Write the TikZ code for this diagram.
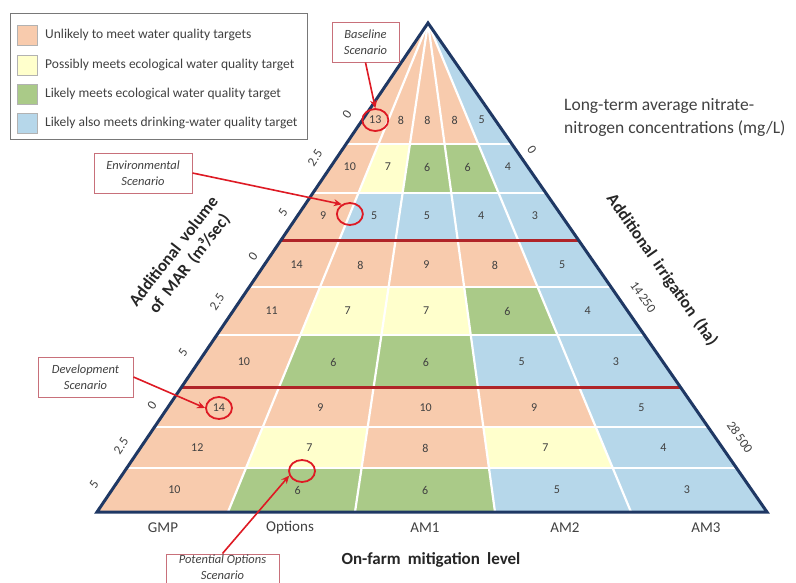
\documentclass[tikz,border=0pt]{standalone}
\usepackage{fontspec}
\setmainfont{Carlito}
\usetikzlibrary{calc,arrows.meta,shapes.geometric}
\definecolor{cOr}{RGB}{248,203,173}
\definecolor{cYe}{RGB}{255,255,204}
\definecolor{cGr}{RGB}{170,202,136}
\definecolor{cBl}{RGB}{182,215,234}
\definecolor{navy}{RGB}{31,56,100}
\definecolor{dred}{RGB}{176,36,40}
\definecolor{ared}{RGB}{222,26,36}
\definecolor{boxred}{RGB}{200,112,122}
\definecolor{txt}{RGB}{65,65,65}
\definecolor{legborder}{RGB}{120,120,120}
\newcommand\widesp{\spaceskip=0.42em\relax}

\newcommand\cellrow[5]{%
  \foreach \col/\num [count=\c from 0] in {#5} {%
    \pgfmathtruncatemacro\cc{\c+1}%
    \fill[\col] ($(A)!#2!(B\c)$) -- ($(A)!#2!(B\cc)$) -- ($(A)!#3!(B\cc)$) -- ($(A)!#3!(B\c)$) -- cycle;
    \coordinate (L) at ($(A)!#4!(B\c)$);
    \coordinate (R) at ($(A)!#4!(B\cc)$);
    \node[num] (n-#1-\c) at ($(L)!.5!(R)$) {\num};
  }}

\begin{document}
\begin{tikzpicture}[x=1pt,y=-1pt,
  num/.style={font=\fontsize{12}{14}\selectfont, text=txt, inner sep=0},
  wline/.style={white, line width=2.2},
  rline/.style={dred, line width=3},
  circ/.style={ellipse, draw=ared, line width=1.8, minimum width=26, minimum height=22, inner sep=0},
  annot/.style={draw=boxred, line width=1, fill=white, font=\itshape\fontsize{12.5}{16}\selectfont, text=txt, align=center, inner sep=0},
  arr/.style={ared, line width=1.6, -{Stealth[length=8pt,width=7pt]}},
  swatch/.style={draw=black!30, line width=0.8, minimum width=20, minimum height=20, inner sep=0},
  legtext/.style={anchor=west, font=\fontsize{13.5}{16}\selectfont, text=txt, inner sep=0},
  tick/.style={font=\fontsize{13}{15}\selectfont, text=txt, inner sep=0},
  blab/.style={font=\fontsize{15}{17}\selectfont, text=txt, inner sep=0},
  axtitle/.style={font={\bfseries\fontsize{17}{20}\selectfont\widesp}, text=black!85, inner sep=0, align=center}
  ]
\useasboundingbox (0,0) rectangle (796,582);
\fill[white] (0,0) rectangle (796,582);

\coordinate (A) at (428,23);
\coordinate (B0) at (97,512);
\coordinate (B1) at (228,512);
\coordinate (B2) at (355,512);
\coordinate (B3) at (495,512);
\coordinate (B4) at (631,512);
\coordinate (B5) at (767,512);

\cellrow{1}{0}{.2474}{.1984}{cOr/13,cOr/8,cOr/8,cOr/8,cBl/5}
\cellrow{2}{.2474}{.3476}{.2945}{cOr/10,cYe/7,cGr/6,cGr/6,cBl/4}
\cellrow{3}{.3476}{.4438}{.3947}{cOr/9,cBl/5,cBl/5,cBl/4,cBl/3}
\cellrow{4}{.4438}{.5399}{.4949}{cOr/14,cOr/8,cOr/9,cOr/8,cBl/5}
\cellrow{5}{.5399}{.6380}{.5890}{cOr/11,cYe/7,cYe/7,cGr/6,cBl/4}
\cellrow{6}{.6380}{.7464}{.6933}{cOr/10,cGr/6,cGr/6,cBl/5,cBl/3}
\cellrow{7}{.7464}{.8262}{.7873}{cOr/14,cOr/9,cOr/10,cOr/9,cBl/5}
\cellrow{8}{.8262}{.9100}{.8691}{cOr/12,cYe/7,cOr/8,cYe/7,cBl/4}
\cellrow{9}{.9100}{1}{.9550}{cOr/10,cGr/6,cGr/6,cBl/5,cBl/3}

% white grid
\foreach \t in {.2474,.3476,.5399,.6380,.8262,.9100}
  \draw[wline] ($(A)!\t!(B0)$) -- ($(A)!\t!(B5)$);
\foreach \k in {1,2,3,4}
  \draw[wline] (A) -- (B\k);
% red block separators
\foreach \t in {.4438,.7464}
  \draw[rline] ($(A)!\t!(B0)$) -- ($(A)!\t!(B5)$);
% outline
\draw[navy, line width=3] (A) -- (B0) -- (B5) -- cycle;

% legend
\node[draw=legborder, line width=1, minimum width=297, minimum height=126, inner sep=0] (leg) at (158.5,76) {};
\node[swatch, fill=cOr] (s1) at (27,35) {};
\node[swatch, fill=cYe] (s2) at (27,65) {};
\node[swatch, fill=cGr] (s3) at (27,94) {};
\node[swatch, fill=cBl] (s4) at (27,123) {};
\node[legtext] (l1) at (45,35) {Unlikely to meet water quality targets};
\node[legtext] (l2) at (45,65) {Possibly meets ecological water quality target};
\node[legtext] (l3) at (45,94) {Likely meets ecological water quality target};
\node[legtext] (l4) at (45,123) {Likely also meets drinking-water quality target};

% left ticks
\node[tick, rotate=56] (lt1) at (347,114) {0};
\node[tick, rotate=56] (lt2) at (315,158) {2.5};
\node[tick, rotate=56] (lt3) at (283,212) {5};
\node[tick, rotate=56] (lt4) at (253,256) {0};
\node[tick, rotate=56] (lt5) at (217,302) {2.5};
\node[tick, rotate=56] (lt6) at (183,352) {5};
\node[tick, rotate=56] (lt7) at (152,405) {0};
\node[tick, rotate=56] (lt8) at (121,446) {2.5};
\node[tick, rotate=56] (lt9) at (94,484) {5};

% right ticks
\node[tick, rotate=-55] (rt1) at (532,150) {0};
\node[tick, rotate=-55] (rt2) at (643,297) {14\,250};
\node[tick, rotate=-55] (rt3) at (740,437) {28\,500};

% axis titles
\node[axtitle, rotate=52] (ytl) at (182,258) {Additional volume\\of MAR (m³/sec)};
\node[axtitle, rotate=-55] (ytr) at (662,270) {Additional irrigation (ha)};
\node[axtitle] (xt) at (431,560) {On-farm mitigation level};

% bottom labels
\node[blab] (g1) at (163,528) {GMP};
\node[blab] (g2) at (290,528) {Options};
\node[blab] (g3) at (425,528) {AM1};
\node[blab] (g4) at (565,528) {AM2};
\node[blab] (g5) at (706,528) {AM3};

% concentration caption
\node[anchor=north west, align=left, font=\fontsize{17.5}{23}\selectfont, text=txt, inner sep=0] (conc) at (564,98) {Long-term average nitrate-\\nitrogen concentrations (mg/L)};

% scenario circles
\node[circ] (c1) at (n-1-0) {};
\node[circ] (c2) at ($(A)!.3906!(B1)$) {};
\node[circ] (c3) at (n-7-0) {};
\node[circ] (c4) at (302,471) {};

% scenario boxes
\node[annot, minimum width=67, minimum height=40] (base) at (365.5,42) {Baseline\\Scenario};
\node[annot, minimum width=98, minimum height=40] (env) at (143,173) {Environmental\\Scenario};
\node[annot, minimum width=95, minimum height=40] (dev) at (85.5,377) {Development\\Scenario};
\node[annot, minimum width=113, minimum height=46] (pot) at (222.5,577) {};
\node[font=\itshape\fontsize{12.5}{16}\selectfont, text=txt, align=center, inner sep=0] (potT) at (222.5,567) {Potential Options\\Scenario};

% arrows
\draw[arr] (base.south) -- (c1.north);
\draw[arr] (env.east) -- (c2.130);
\draw[arr] (dev.east) -- (c3.west);
\draw[arr] (pot.north) -- (c4.200);
\end{tikzpicture}
\end{document}
